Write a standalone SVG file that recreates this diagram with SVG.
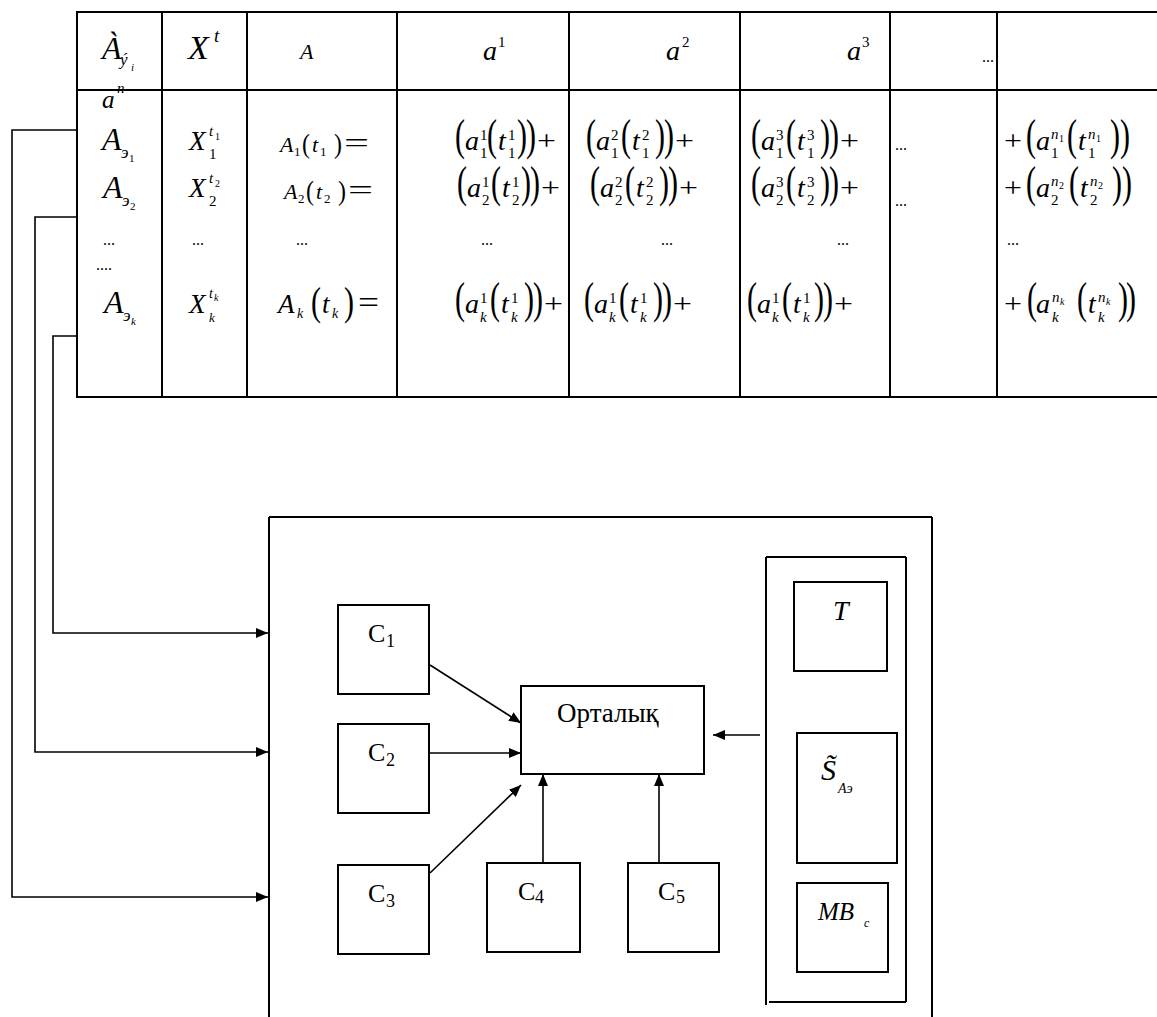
<svg xmlns="http://www.w3.org/2000/svg" width="1157" height="1017" viewBox="0 0 1157 1017">
<defs>
<marker id="ah" viewBox="0 0 12 10" refX="12" refY="5" markerWidth="12" markerHeight="10" markerUnits="userSpaceOnUse" orient="auto"><path d="M0,0 L12,5 L0,10 z" fill="#000"/></marker>
</defs>
<style>
text { font-family: "Liberation Serif", "Times New Roman", serif; fill: #000; }
.ln { stroke: #000; stroke-width: 2; fill: none; }
.bx { stroke: #000; stroke-width: 2; fill: none; }
.cn { stroke: #000; stroke-width: 1.6; fill: none; marker-end: url(#ah); }
.bA { font-size: 32px; font-style: italic; }
.hX { font-size: 34px; font-style: italic; }
.X { font-size: 27px; font-style: italic; }
.m { font-size: 28px; font-style: italic; }
.mA { font-size: 22px; font-style: italic; }
.mK { font-size: 27px; font-style: italic; }
.ix { font-size: 15px; }
.ixi { font-size: 15px; font-style: italic; }
.ix2 { font-size: 10px; }
.ix2i { font-size: 10px; font-style: italic; }
.ix3 { font-size: 13px; }
.ix3i { font-size: 13px; font-style: italic; }
.e { font-size: 17px; font-style: italic; }
.ed { font-size: 11px; }
.par { font-size: 30px; }
.par2 { font-size: 24px; }
.pl { font-size: 28px; }
.dots { font-size: 16px; }
.lab { font-size: 26px; }
.sub { font-size: 18px; }
.ort { font-size: 27px; }
</style>

<g id="table">
  <line class="ln" x1="76" y1="12" x2="1157" y2="12"/>
  <line class="ln" x1="76" y1="90" x2="1157" y2="90"/>
  <line class="ln" x1="76" y1="397" x2="1157" y2="397"/>
  <line class="ln" x1="77" y1="12" x2="77" y2="397"/>
  <line class="ln" x1="162" y1="12" x2="162" y2="397"/>
  <line class="ln" x1="247" y1="12" x2="247" y2="397"/>
  <line class="ln" x1="397" y1="12" x2="397" y2="397"/>
  <line class="ln" x1="569" y1="12" x2="569" y2="397"/>
  <line class="ln" x1="740" y1="12" x2="740" y2="397"/>
  <line class="ln" x1="890" y1="12" x2="890" y2="397"/>
  <line class="ln" x1="997" y1="12" x2="997" y2="397"/>

  <!-- header -->
  <text class="bA" x="102" y="59">À</text>
  <text class="e" x="120" y="65">ý</text>
  <text class="ed" x="131" y="71" style="font-style:italic">i</text>
  <text class="hX" x="188" y="59">X</text>
  <text class="ixi" x="214" y="42" style="font-size:19px">t</text>
  <text class="mA" x="300" y="59">A</text>
  <text class="m" x="483" y="60">a</text>
  <text class="ix" x="498" y="47">1</text>
  <text class="m" x="666" y="60">a</text>
  <text class="ix" x="682" y="47">2</text>
  <text class="m" x="847" y="60">a</text>
  <text class="ix" x="862" y="47">3</text>
  <text class="dots" x="982" y="62">...</text>

  <!-- a^n -->
  <text class="m" x="102" y="108" style="font-size:25px">a</text>
  <text class="ixi" x="117" y="93">n</text>

  <!-- column 1 -->
  <text class="bA" x="102" y="150">A</text>
  <text class="e" x="121" y="158">э</text>
  <text class="ed" x="129" y="162">1</text>
  <text class="bA" x="103" y="198">A</text>
  <text class="e" x="122" y="206">э</text>
  <text class="ed" x="130" y="210">2</text>
  <text class="dots" x="103" y="245">...</text>
  <text class="dots" x="96" y="270">....</text>
  <text class="bA" x="104" y="313">A</text>
  <text class="e" x="123" y="321">э</text>
  <text class="ed" x="131" y="325" style="font-style:italic">k</text>

  <!-- column 2 -->
  <text class="X" x="189" y="150">X</text>
  <text class="ixi" x="209" y="136">t</text>
  <text class="ix2" x="215" y="140">1</text>
  <text class="ix" x="209" y="159">1</text>
  <text class="X" x="189" y="197">X</text>
  <text class="ixi" x="209" y="183">t</text>
  <text class="ix2" x="215" y="187">2</text>
  <text class="ix" x="209" y="206">2</text>
  <text class="dots" x="192" y="245">...</text>
  <text class="X" x="189" y="313">X</text>
  <text class="ixi" x="209" y="298" style="font-size:14px">t</text>
  <text class="ix2i" x="214" y="301">k</text>
  <text class="ixi" x="209" y="322" style="font-size:13px">k</text>

  <!-- column 3 -->
  <g transform="translate(280,152)">
    <text class="mA" x="0">A</text>
    <text class="ix3" x="14" y="4">1</text>
    <text class="par2" transform="translate(22,1) scale(1,1.15)">(</text>
    <text class="mA" x="32">t</text>
    <text class="ix3" x="40" y="4">1</text>
    <text class="par2" transform="translate(54,1) scale(1,1.15)">)</text>
    <text class="pl" x="64" textLength="25" lengthAdjust="spacingAndGlyphs">=</text>
  </g>
  <g transform="translate(284,199)">
    <text class="mA" x="0">A</text>
    <text class="ix3" x="14" y="4">2</text>
    <text class="par2" transform="translate(22,1) scale(1,1.15)">(</text>
    <text class="mA" x="32">t</text>
    <text class="ix3" x="40" y="4">2</text>
    <text class="par2" transform="translate(54,1) scale(1,1.15)">)</text>
    <text class="pl" x="64" textLength="25" lengthAdjust="spacingAndGlyphs">=</text>
  </g>
  <text class="dots" x="296" y="245">...</text>
  <g transform="translate(278,313)">
    <text class="mK" x="0">A</text>
    <text class="ix3i" x="19" y="5" style="font-size:14px">k</text>
    <text class="par" transform="translate(33,2) scale(1,1.3)">(</text>
    <text class="mK" x="44">t</text>
    <text class="ix3i" x="54" y="5" style="font-size:14px">k</text>
    <text class="par" transform="translate(66,2) scale(1,1.3)">)</text>
    <text class="pl" x="80" textLength="21" lengthAdjust="spacingAndGlyphs" style="font-size:32px">=</text>
  </g>

  <!-- column 4 -->
  <g transform="translate(455,150)">
    <text class="par" transform="scale(1,1.5)">(</text>
    <text class="m" x="10">a</text>
    <text class="ix" x="25" y="-10">1</text>
    <text class="ix" x="25" y="8">1</text>
    <text class="par" transform="translate(32,0) scale(1,1.5)">(</text>
    <text class="m" x="43">t</text>
    <text class="ix" x="53" y="-10">1</text>
    <text class="ix" x="53" y="8">1</text>
    <text class="par" transform="translate(62,0) scale(1,1.5)">)</text>
    <text class="par" transform="translate(71,0) scale(1,1.5)">)</text>
    <text class="pl" x="82" textLength="19" lengthAdjust="spacingAndGlyphs">+</text>
  </g>
  <g transform="translate(457,197)">
    <text class="par" transform="scale(1,1.5)">(</text>
    <text class="m" x="10">a</text>
    <text class="ix" x="25" y="-10">1</text>
    <text class="ix" x="25" y="8">2</text>
    <text class="par" transform="translate(34,0) scale(1,1.5)">(</text>
    <text class="m" x="45">t</text>
    <text class="ix" x="55" y="-10">1</text>
    <text class="ix" x="55" y="8">2</text>
    <text class="par" transform="translate(64,0) scale(1,1.5)">)</text>
    <text class="par" transform="translate(73,0) scale(1,1.5)">)</text>
    <text class="pl" x="84" textLength="19" lengthAdjust="spacingAndGlyphs">+</text>
  </g>
  <text class="dots" x="481" y="245">...</text>
  <g transform="translate(455,313)">
    <text class="par" transform="scale(1,1.5)">(</text>
    <text class="m" x="10">a</text>
    <text class="ix" x="25" y="-10">1</text>
    <text class="ixi" x="25" y="9">k</text>
    <text class="par" transform="translate(35,0) scale(1,1.5)">(</text>
    <text class="m" x="46">t</text>
    <text class="ix" x="56" y="-10">1</text>
    <text class="ixi" x="56" y="9">k</text>
    <text class="par" transform="translate(69,0) scale(1,1.5)">)</text>
    <text class="par" transform="translate(78,0) scale(1,1.5)">)</text>
    <text class="pl" x="89" textLength="19" lengthAdjust="spacingAndGlyphs">+</text>
  </g>

  <!-- column 5 -->
  <g transform="translate(586,150)">
    <text class="par" transform="scale(1,1.5)">(</text>
    <text class="m" x="10">a</text>
    <text class="ix" x="25" y="-10">2</text>
    <text class="ix" x="25" y="8">1</text>
    <text class="par" transform="translate(35,0) scale(1,1.5)">(</text>
    <text class="m" x="46">t</text>
    <text class="ix" x="56" y="-10">2</text>
    <text class="ix" x="56" y="8">1</text>
    <text class="par" transform="translate(69,0) scale(1,1.5)">)</text>
    <text class="par" transform="translate(78,0) scale(1,1.5)">)</text>
    <text class="pl" x="89" textLength="19" lengthAdjust="spacingAndGlyphs">+</text>
  </g>
  <g transform="translate(590,197)">
    <text class="par" transform="scale(1,1.5)">(</text>
    <text class="m" x="10">a</text>
    <text class="ix" x="25" y="-10">2</text>
    <text class="ix" x="25" y="8">2</text>
    <text class="par" transform="translate(35,0) scale(1,1.5)">(</text>
    <text class="m" x="46">t</text>
    <text class="ix" x="56" y="-10">2</text>
    <text class="ix" x="56" y="8">2</text>
    <text class="par" transform="translate(69,0) scale(1,1.5)">)</text>
    <text class="par" transform="translate(78,0) scale(1,1.5)">)</text>
    <text class="pl" x="89" textLength="19" lengthAdjust="spacingAndGlyphs">+</text>
  </g>
  <text class="dots" x="661" y="245">...</text>
  <g transform="translate(584,313)">
    <text class="par" transform="scale(1,1.5)">(</text>
    <text class="m" x="10">a</text>
    <text class="ix" x="25" y="-10">1</text>
    <text class="ixi" x="25" y="9">k</text>
    <text class="par" transform="translate(35,0) scale(1,1.5)">(</text>
    <text class="m" x="46">t</text>
    <text class="ix" x="56" y="-10">1</text>
    <text class="ixi" x="56" y="9">k</text>
    <text class="par" transform="translate(69,0) scale(1,1.5)">)</text>
    <text class="par" transform="translate(78,0) scale(1,1.5)">)</text>
    <text class="pl" x="89" textLength="19" lengthAdjust="spacingAndGlyphs">+</text>
  </g>

  <!-- column 6 -->
  <g transform="translate(751,150)">
    <text class="par" transform="scale(1,1.5)">(</text>
    <text class="m" x="10">a</text>
    <text class="ix" x="25" y="-10">3</text>
    <text class="ix" x="25" y="8">1</text>
    <text class="par" transform="translate(35,0) scale(1,1.5)">(</text>
    <text class="m" x="46">t</text>
    <text class="ix" x="56" y="-10">3</text>
    <text class="ix" x="56" y="8">1</text>
    <text class="par" transform="translate(69,0) scale(1,1.5)">)</text>
    <text class="par" transform="translate(78,0) scale(1,1.5)">)</text>
    <text class="pl" x="89" textLength="19" lengthAdjust="spacingAndGlyphs">+</text>
  </g>
  <g transform="translate(751,197)">
    <text class="par" transform="scale(1,1.5)">(</text>
    <text class="m" x="10">a</text>
    <text class="ix" x="25" y="-10">3</text>
    <text class="ix" x="25" y="8">2</text>
    <text class="par" transform="translate(35,0) scale(1,1.5)">(</text>
    <text class="m" x="46">t</text>
    <text class="ix" x="56" y="-10">3</text>
    <text class="ix" x="56" y="8">2</text>
    <text class="par" transform="translate(69,0) scale(1,1.5)">)</text>
    <text class="par" transform="translate(78,0) scale(1,1.5)">)</text>
    <text class="pl" x="89" textLength="19" lengthAdjust="spacingAndGlyphs">+</text>
  </g>
  <text class="dots" x="837" y="245">...</text>
  <g transform="translate(747,313)">
    <text class="par" transform="scale(1,1.5)">(</text>
    <text class="m" x="10">a</text>
    <text class="ix" x="25" y="-10">1</text>
    <text class="ixi" x="25" y="9">k</text>
    <text class="par" transform="translate(35,0) scale(1,1.5)">(</text>
    <text class="m" x="46">t</text>
    <text class="ix" x="56" y="-10">1</text>
    <text class="ixi" x="56" y="9">k</text>
    <text class="par" transform="translate(67,0) scale(1,1.5)">)</text>
    <text class="par" transform="translate(76,0) scale(1,1.5)">)</text>
    <text class="pl" x="87" textLength="19" lengthAdjust="spacingAndGlyphs">+</text>
  </g>

  <!-- column 7 -->
  <text class="dots" x="895" y="150">...</text>
  <text class="dots" x="895" y="206">...</text>

  <!-- column 8 -->
  <g transform="translate(1004,150)">
    <text class="pl" x="0" textLength="18" lengthAdjust="spacingAndGlyphs">+</text>
    <text class="par" transform="translate(22,0) scale(1,1.5)">(</text>
    <text class="m" x="32">a</text>
    <text class="ixi" x="47" y="-11">n</text>
    <text class="ix2" x="55" y="-8">1</text>
    <text class="ix" x="47" y="8">1</text>
    <text class="par" transform="translate(63,0) scale(1,1.5)">(</text>
    <text class="m" x="74">t</text>
    <text class="ixi" x="84" y="-11">n</text>
    <text class="ix2" x="92" y="-8">1</text>
    <text class="ix" x="84" y="8">1</text>
    <text class="par" transform="translate(106,0) scale(1,1.5)">)</text>
    <text class="par" transform="translate(116,0) scale(1,1.5)">)</text>
  </g>
  <g transform="translate(1004,197)">
    <text class="pl" x="0" textLength="18" lengthAdjust="spacingAndGlyphs">+</text>
    <text class="par" transform="translate(22,0) scale(1,1.5)">(</text>
    <text class="m" x="32">a</text>
    <text class="ixi" x="47" y="-11">n</text>
    <text class="ix2" x="55" y="-8">2</text>
    <text class="ix" x="47" y="8">2</text>
    <text class="par" transform="translate(65,0) scale(1,1.5)">(</text>
    <text class="m" x="76">t</text>
    <text class="ixi" x="86" y="-11">n</text>
    <text class="ix2" x="94" y="-8">2</text>
    <text class="ix" x="86" y="8">2</text>
    <text class="par" transform="translate(108,0) scale(1,1.5)">)</text>
    <text class="par" transform="translate(118,0) scale(1,1.5)">)</text>
  </g>
  <text class="dots" x="1007" y="245">...</text>
  <g transform="translate(1004,313)">
    <text class="pl" x="0" textLength="18" lengthAdjust="spacingAndGlyphs">+</text>
    <text class="par" transform="translate(23,0) scale(1,1.5)">(</text>
    <text class="m" x="32">a</text>
    <text class="ixi" x="48" y="-11">n</text>
    <text class="ix2i" x="56" y="-8">k</text>
    <text class="ixi" x="48" y="9">k</text>
    <text class="par" transform="translate(73,0) scale(1,1.5)">(</text>
    <text class="m" x="84">t</text>
    <text class="ixi" x="94" y="-11">n</text>
    <text class="ix2i" x="102" y="-8">k</text>
    <text class="ixi" x="94" y="9">k</text>
    <text class="par" transform="translate(114,0) scale(1,1.5)">)</text>
    <text class="par" transform="translate(122,0) scale(1,1.5)">)</text>
  </g>
</g>

<g id="system">
  <line class="ln" x1="269" y1="517" x2="932" y2="517"/>
  <line class="ln" x1="269" y1="517" x2="269" y2="1017"/>
  <line class="ln" x1="932" y1="517" x2="932" y2="1017"/>
</g>

<g id="storage">
  <line class="ln" x1="766" y1="557" x2="906" y2="557"/>
  <line class="ln" x1="766" y1="557" x2="766" y2="1005"/>
  <line class="ln" x1="906" y1="557" x2="906" y2="1002"/>
  <line class="ln" x1="769" y1="1002" x2="906" y2="1002"/>
</g>

<g id="node-T">
  <rect class="bx" x="794" y="582" width="93" height="89"/>
  <text class="m" x="833" y="620">T</text>
</g>
<g id="node-S">
  <rect class="bx" x="797" y="733" width="100" height="130"/>
  <text class="m" x="821" y="780" style="font-size:30px">S̃</text>
  <text class="ix3i" x="838" y="793" style="font-size:14px">Aэ</text>
</g>
<g id="node-MB">
  <rect class="bx" x="797" y="883" width="91" height="89"/>
  <text class="m" x="818" y="920" style="font-size:25px">MB</text>
  <text class="ix3i" x="864" y="927" style="font-size:12px">c</text>
</g>

<g id="node-C1">
  <rect class="bx" x="338" y="605" width="91" height="89"/>
  <text class="lab" x="368" y="642">C</text><text class="sub" x="386" y="647">1</text>
</g>
<g id="node-C2">
  <rect class="bx" x="338" y="724" width="91" height="89"/>
  <text class="lab" x="368" y="761">C</text><text class="sub" x="386" y="766">2</text>
</g>
<g id="node-C3">
  <rect class="bx" x="338" y="865" width="91" height="89"/>
  <text class="lab" x="368" y="902">C</text><text class="sub" x="386" y="907">3</text>
</g>
<g id="node-C4">
  <rect class="bx" x="487" y="863" width="93" height="89"/>
  <text class="lab" x="518" y="900">C</text><text class="sub" x="535" y="903">4</text>
</g>
<g id="node-C5">
  <rect class="bx" x="628" y="863" width="91" height="89"/>
  <text class="lab" x="658" y="900">C</text><text class="sub" x="676" y="903">5</text>
</g>
<g id="node-center">
  <rect class="bx" x="521" y="686" width="183" height="88"/>
  <text class="ort" x="557" y="722">Орталық</text>
</g>

<g id="connectors">
  <polyline class="cn" points="77,130 12,130 12,897 268,897"/>
  <polyline class="cn" points="77,217 35,217 35,752 268,752"/>
  <polyline class="cn" points="77,336 53,336 53,633 268,633"/>
  <line class="cn" x1="430" y1="665" x2="521" y2="723"/>
  <line class="cn" x1="429" y1="753" x2="521" y2="753"/>
  <line class="cn" x1="430" y1="873" x2="521" y2="785"/>
  <line class="cn" x1="543" y1="863" x2="543" y2="774"/>
  <line class="cn" x1="659" y1="863" x2="659" y2="774"/>
  <line class="cn" x1="760" y1="735" x2="713" y2="735"/>
</g>
</svg>
